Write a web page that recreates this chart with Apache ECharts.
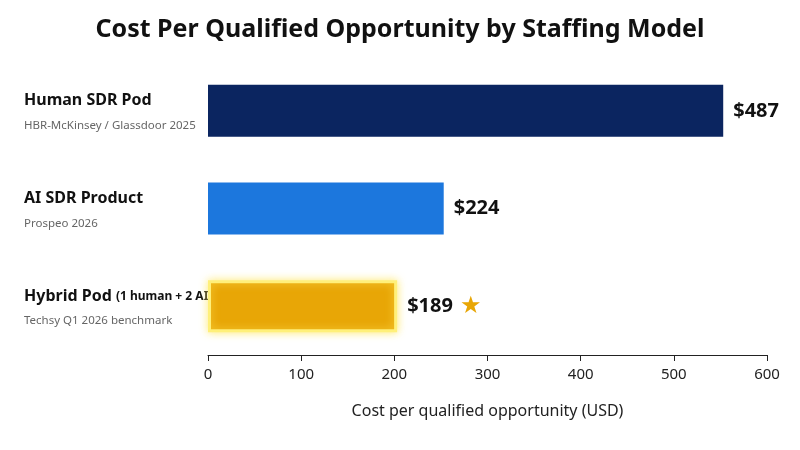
<!DOCTYPE html><html><head><meta charset="utf-8"><script src="https://cdn.jsdelivr.net/npm/echarts@6/dist/echarts.min.js"></script></head><body style="margin:0"><div id="c" style="width:800px;height:450px"></div><script>
const categories=['Human SDR Pod','AI SDR Product','Hybrid Pod'];
const subtitles=['HBR-McKinsey / Glassdoor 2025','Prospeo 2026','Techsy Q1 2026 benchmark'];
const barLengths=[553,253,203];
const valueLabels=['$487','$224','$189'];
const colors=['#0B2560','#1C77DD','#E8A606'];
const xTicks=[0,100,200,300,400,500,600];
const c=echarts.init(document.getElementById('c'));
const F='Noto Sans';
c.setOption({
title:{text:'Cost Per Qualified Opportunity by Staffing Model',left:'center',top:12,textStyle:{fontFamily:F,fontSize:25,fontWeight:'bold',color:'#111'}},
grid:{left:208,right:33,top:62,bottom:95},
xAxis:{type:'value',min:xTicks[0],max:xTicks[xTicks.length-1],interval:100,splitLine:{show:false},
axisLine:{show:true,lineStyle:{color:'#222'}},axisTick:{show:true,length:6,lineStyle:{color:'#222'}},
axisLabel:{fontFamily:F,fontSize:15,color:'#222',margin:12},
name:'Cost per qualified opportunity (USD)',nameLocation:'middle',nameGap:48,nameTextStyle:{fontFamily:F,fontSize:16,color:'#222'}},
yAxis:{type:'category',inverse:true,data:categories,axisLine:{show:false},axisTick:{show:false},
axisLabel:{align:'left',margin:184,formatter:(v,i)=>{
 const t=i===2?'{n|Hybrid Pod }{p|(1 human + 2 AI)}':'{n|'+v+'}';
 return t+'\n{s|'+subtitles[i]+'}';},
 rich:{n:{fontFamily:F,fontSize:16,fontWeight:'bold',color:'#111',lineHeight:30},p:{fontFamily:F,fontSize:12,fontWeight:'bold',color:'#111'},s:{fontFamily:F,fontSize:11.5,color:'#666',lineHeight:20}}}},
series:[{type:'bar',barWidth:52,data:barLengths.map((v,i)=>({value:v,itemStyle:{color:colors[i],
 borderColor:i===2?'#FFF07A':null,borderWidth:i===2?3:0,shadowColor:i===2?'rgba(255,230,90,0.8)':'transparent',shadowBlur:i===2?8:0}})),
label:{show:true,position:'right',distance:10,formatter:p=>'{v|'+valueLabels[p.dataIndex]+'}'+(p.dataIndex===2?'  {st|★}':''),
rich:{v:{fontFamily:F,fontSize:20,fontWeight:'bold',color:'#111'},st:{fontSize:24,color:'#E8A606'}}}}]
});
</script></body></html>
